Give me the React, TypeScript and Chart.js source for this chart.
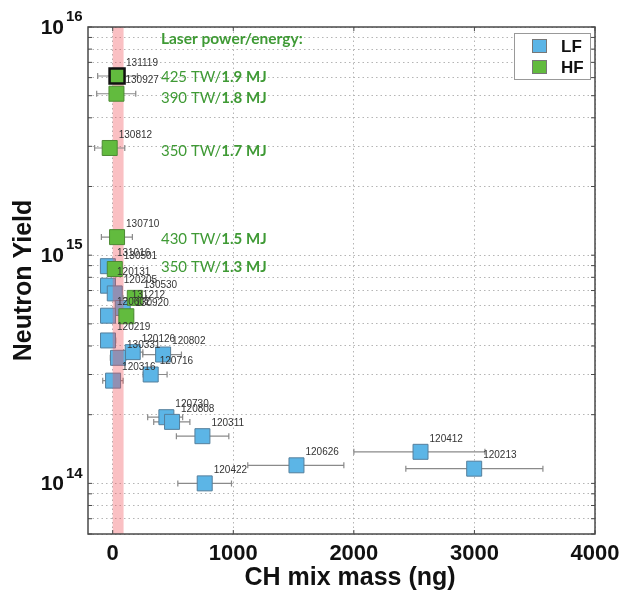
import React, { useEffect, useRef } from 'react';
import { Chart, registerables } from 'chart.js';

Chart.register(...registerables);

// ---------- data ----------
const LF_LABELS = ['131016', '120131', '120205', '131212', '120602', '120219', '120126', '130331', '120802', '120716', '120316', '120730', '120808', '120311', '120626', '120422', '120412', '120213'];
const LF_X = [-40, -39, 17, 83, -39, -39, 166, 44, 418, 315, 3, 445, 492, 744, 1524, 763, 2553, 2998];
const LF_Y = [8.95e14, 7.35e14, 6.8e14, 5.87e14, 5.43e14, 4.23e14, 3.76e14, 3.55e14, 3.67e14, 3.0e14, 2.82e14, 1.95e14, 1.86e14, 1.61e14, 1.2e14, 1.0e14, 1.375e14, 1.16e14];
const LF_XLO = [-95, -90, -30, 40, -95, -95, 90, -20, 249, 252, -83, 290, 340, 528, 1120, 540, 2000, 2431];
const LF_XHI = [15, 10, 70, 130, 20, 25, 250, 110, 570, 451, 86, 580, 640, 963, 1917, 985, 3087, 3568];

const HF_LABELS = ['131119', '130927', '130812', '130710', '130501', '130530', '130920'];
const HF_X = [36, 31, -25, 36, 17, 183, 113];
const HF_Y = [6.1e15, 5.1e15, 2.95e15, 1.2e15, 8.7e14, 6.5e14, 5.4e14];
const HF_XLO = [-125, -133, -150, -94, -40, 85, 60];
const HF_XHI = [205, 191, 100, 163, 75, 280, 170];

const ANNOT_TITLE = 'Laser power/energy:';
const ANNOT_TITLE_Y = 8.9e15;
const ANNOT_POWER = ['425 TW/', '390 TW/', '350 TW/', '430 TW/', '350 TW/'];
const ANNOT_ENERGY = ['1.9 MJ', '1.8 MJ', '1.7 MJ', '1.5 MJ', '1.3 MJ'];
const ANNOT_Y = [6.05e15, 4.9e15, 2.85e15, 1.175e15, 8.87e14];
const ANNOT_X = 400;

const X_TICKS = [0, 1000, 2000, 3000, 4000];
const Y_DECADES = [14, 15, 16];
const X_MIN = -205;
const X_MAX = 4000;
const Y_MIN = 6e13;
const Y_MAX = 1e16;
const BAND = [0, 90];

const LF_COLOR = '#5cb5e6';
const HF_COLOR = '#62bb3e';
const ANNOT_COLOR = '#3f9a35';
const FONT = '"Liberation Sans", Arial, sans-serif';
const ANNOT_FONT = 'Lato, "Open Sans", sans-serif';

function yMinorTicks() {
  const out: number[] = [];
  for (let e = 13; e <= 15; e++) {
    for (let m = 1; m <= 9; m++) {
      const v = m * Math.pow(10, e);
      if (v >= Y_MIN * 0.999 && v <= Y_MAX) out.push(v);
    }
  }
  out.push(Y_MAX);
  return out;
}

function drawErrorBars(chart: any, xs: number[], ys: number[], lo: number[], hi: number[]) {
  const ctx = chart.ctx;
  const sx = chart.scales.x, sy = chart.scales.y;
  ctx.save();
  ctx.strokeStyle = '#8a8a8a';
  ctx.lineWidth = 1.2;
  for (let i = 0; i < xs.length; i++) {
    const y = sy.getPixelForValue(ys[i]);
    const x1 = sx.getPixelForValue(lo[i]);
    const x2 = sx.getPixelForValue(hi[i]);
    ctx.beginPath();
    ctx.moveTo(x1, y); ctx.lineTo(x2, y);
    ctx.moveTo(x1, y - 3); ctx.lineTo(x1, y + 3);
    ctx.moveTo(x2, y - 3); ctx.lineTo(x2, y + 3);
    ctx.stroke();
  }
  ctx.restore();
}

const overlay = {
  id: 'overlay',
  beforeDatasetDraw(chart: any, args: any) {
    if (args.index === 1) drawErrorBars(chart, LF_X, LF_Y, LF_XLO, LF_XHI);
    if (args.index === 0) drawErrorBars(chart, HF_X, HF_Y, HF_XLO, HF_XHI);
  },
  afterDatasetDraw(chart: any, args: any) {
    if (args.index !== 1) return;
    const ctx = chart.ctx;
    const a = chart.chartArea;
    const sx = chart.scales.x;
    const x1 = sx.getPixelForValue(BAND[0]);
    const x2 = sx.getPixelForValue(BAND[1]);
    ctx.save();
    ctx.fillStyle = 'rgba(240, 80, 90, 0.36)';
    ctx.fillRect(x1, a.top, x2 - x1, a.bottom - a.top);
    ctx.restore();
  },
  afterDraw(chart: any) {
    const ctx = chart.ctx;
    const a = chart.chartArea;
    const sx = chart.scales.x, sy = chart.scales.y;
    ctx.save();

    // frame
    ctx.strokeStyle = '#4a4a4a';
    ctx.lineWidth = 1.5;
    ctx.strokeRect(a.left, a.top, a.right - a.left, a.bottom - a.top);
    ctx.lineWidth = 1;
    ctx.beginPath();
    for (const v of yMinorTicks()) {
      const y = sy.getPixelForValue(v);
      ctx.moveTo(a.right, y); ctx.lineTo(a.right - 4, y);
      ctx.moveTo(a.left, y); ctx.lineTo(a.left + 4, y);
    }
    for (const v of X_TICKS) {
      const x = sx.getPixelForValue(v);
      ctx.moveTo(x, a.bottom); ctx.lineTo(x, a.bottom - 4);
      ctx.moveTo(x, a.top); ctx.lineTo(x, a.top + 4);
    }
    ctx.stroke();

    // point labels
    ctx.fillStyle = '#333';
    ctx.font = '10px ' + FONT;
    ctx.textAlign = 'left';
    ctx.textBaseline = 'middle';
    LF_LABELS.forEach((t, i) => {
      ctx.fillText(t, sx.getPixelForValue(LF_X[i]) + 9, sy.getPixelForValue(LF_Y[i]) - 13);
    });
    HF_LABELS.forEach((t, i) => {
      ctx.fillText(t, sx.getPixelForValue(HF_X[i]) + 9, sy.getPixelForValue(HF_Y[i]) - 13);
    });

    // annotations
    const ax = sx.getPixelForValue(ANNOT_X);
    ctx.fillStyle = ANNOT_COLOR;
    ctx.font = 'bold 15.5px ' + ANNOT_FONT;
    ctx.fillText(ANNOT_TITLE, ax, sy.getPixelForValue(ANNOT_TITLE_Y));
    ANNOT_POWER.forEach((p, i) => {
      const y = sy.getPixelForValue(ANNOT_Y[i]);
      ctx.font = '15px ' + ANNOT_FONT;
      ctx.fillText(p, ax, y);
      const w = ctx.measureText(p).width;
      ctx.font = 'bold 15px ' + ANNOT_FONT;
      ctx.fillText(ANNOT_ENERGY[i], ax + w, y);
    });

    // legend
    ctx.fillStyle = '#fff';
    ctx.fillRect(514, 33, 76, 46);
    ctx.strokeStyle = '#999';
    ctx.lineWidth = 1;
    ctx.strokeRect(514.5, 33.5, 76, 46);
    const items: [string, string, number][] = [['LF', LF_COLOR, 46], ['HF', HF_COLOR, 67]];
    for (const [t, c, y] of items) {
      ctx.fillStyle = c;
      ctx.fillRect(532, y - 7, 15, 14);
      ctx.strokeStyle = '#777';
      ctx.strokeRect(532.5, y - 6.5, 14, 13);
      ctx.fillStyle = '#111';
      ctx.font = 'bold 17px ' + FONT;
      ctx.textAlign = 'left';
      ctx.fillText(t, 561, y + 1);
    }

    // x tick labels
    ctx.fillStyle = '#111';
    ctx.font = 'bold 22px ' + FONT;
    ctx.textAlign = 'center';
    ctx.textBaseline = 'middle';
    for (const v of X_TICKS) {
      ctx.fillText(String(v), sx.getPixelForValue(v), 554);
    }
    // y tick labels with superscripts
    for (const d of Y_DECADES) {
      const y = sy.getPixelForValue(Math.pow(10, d));
      ctx.font = 'bold 21px ' + FONT;
      ctx.textAlign = 'right';
      ctx.fillText('10', 64, y + 1);
      ctx.font = 'bold 15px ' + FONT;
      ctx.textAlign = 'left';
      ctx.fillText(String(d), 66, y - 10);
    }
    // axis titles
    ctx.font = 'bold 25px ' + FONT;
    ctx.textAlign = 'center';
    ctx.fillText('CH mix mass (ng)', 350, 578);
    ctx.save();
    ctx.translate(24, (a.top + a.bottom) / 2);
    ctx.rotate(-Math.PI / 2);
    ctx.font = 'bold 25px ' + FONT;
    ctx.fillText('Neutron Yield', 0, 0);
    ctx.restore();

    ctx.restore();
  },
};

export default function App() {
  const ref = useRef<HTMLCanvasElement | null>(null);
  useEffect(() => {
    document.body.style.margin = '0';
    const canvas = ref.current!;
    const hfBorder = HF_LABELS.map((l) => (l === '131119' ? '#111' : '#4d8a34'));
    const hfBorderW = HF_LABELS.map((l) => (l === '131119' ? 2.5 : 1));
    const chart = new Chart(canvas, {
      type: 'scatter',
      data: {
        datasets: [
          {
            label: 'HF',
            data: HF_X.map((x, i) => ({ x, y: HF_Y[i] })),
            backgroundColor: HF_COLOR,
            borderColor: hfBorder,
            borderWidth: hfBorderW,
            pointStyle: 'rect',
            pointRadius: 10.6,
            pointHoverRadius: 10.6,
          },
          {
            label: 'LF',
            data: LF_X.map((x, i) => ({ x, y: LF_Y[i] })),
            backgroundColor: LF_COLOR,
            borderColor: '#557f9c',
            borderWidth: 1,
            pointStyle: 'rect',
            pointRadius: 10.6,
            pointHoverRadius: 10.6,
          },
        ],
      },
      options: {
        responsive: false,
        animation: false,
        events: [],
        layout: { padding: { left: 0, top: 27, right: 27, bottom: 0 } },
        plugins: { legend: { display: false }, tooltip: { enabled: false } },
        scales: {
          x: {
            type: 'linear',
            min: X_MIN,
            max: X_MAX,
            afterBuildTicks: (s: any) => { s.ticks = X_TICKS.map((v) => ({ value: v })); },
            afterFit: (s: any) => { s.height = 57; },
            ticks: { display: false },
            grid: { color: '#b5b5b5', lineWidth: 1, drawTicks: false },
            border: { display: false, dash: [1.5, 3] },
          },
          y: {
            type: 'logarithmic',
            min: Y_MIN,
            max: Y_MAX,
            afterBuildTicks: (s: any) => { s.ticks = yMinorTicks().map((v) => ({ value: v })); },
            afterFit: (s: any) => { s.width = 88; },
            ticks: { display: false },
            grid: { color: '#b5b5b5', lineWidth: 1, drawTicks: false },
            border: { display: false, dash: [1.5, 3] },
          },
        },
      },
      plugins: [overlay],
    } as any);
    return () => chart.destroy();
  }, []);
  return <canvas ref={ref} width={622} height={591} style={{ display: 'block' }} />;
}
